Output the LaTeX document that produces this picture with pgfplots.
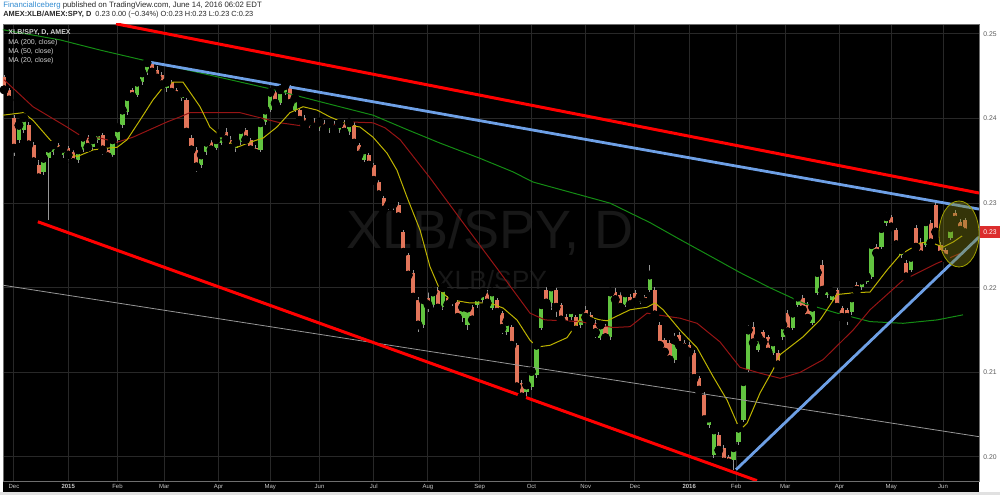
\documentclass[border=0pt]{standalone}
\usepackage{pgfplots}
\pgfplotsset{compat=1.18}
\usepackage{pgfplotstable}
\usepackage{fontspec}
\setmainfont{Liberation Sans}

\definecolor{upc}{RGB}{98,196,64}
\definecolor{dnc}{RGB}{226,117,90}
\definecolor{wickc}{RGB}{150,150,150}
\definecolor{gridc}{RGB}{40,40,40}
\definecolor{framec}{RGB}{110,110,110}
\definecolor{ma200}{RGB}{20,140,20}
\definecolor{ma50}{RGB}{150,20,20}
\definecolor{ma20}{RGB}{190,180,0}
\definecolor{trred}{RGB}{255,0,0}
\definecolor{trblue}{RGB}{110,160,230}
\definecolor{trgray}{RGB}{150,150,150}
\definecolor{wmark}{RGB}{24,24,24}
\definecolor{hdrblue}{RGB}{50,140,210}
\definecolor{hdrtxt}{RGB}{40,40,40}
\definecolor{ticktxt}{RGB}{90,90,90}
\definecolor{xlab}{RGB}{200,200,200}
\definecolor{legtxt}{RGB}{210,210,210}
\definecolor{bottomgray}{RGB}{225,225,225}
\definecolor{ellc}{RGB}{160,160,0}
\definecolor{ellfill}{RGB}{130,130,20}
\definecolor{tagred}{RGB}{220,45,45}

% daily XLB/SPY candles, sampled every 2 trading days (d = trading days since 1 Dec 2014)
\pgfplotstableread{
d o h l c
-4 .2449 .2452 .2431 .2434
-2 .2434 .2436 .2417 .2422
0 .2401 .2404 .2356 .2365
2 .2375 .2396 .2371 .2392
4 .2387 .2403 .2383 .2401
6 .2392 .2396 .2365 .2369
8 .2369 .2372 .2345 .2349
10 .2345 .2351 .2325 .2330
12 .2337 .2357 .2333 .2353
14 .2353 .2369 .2280 .2365
16 .2361 .2372 .2357 .2369
18 .2369 .2371 .2357 .2361
20 .2357 .2369 .2353 .2365
22 .2365 .2368 .2351 .2357
24 .2361 .2363 .2345 .2348
26 .2351 .2365 .2348 .2363
28 .2363 .2381 .2361 .2378
30 .2378 .2381 .2363 .2366
32 .2366 .2378 .2363 .2375
34 .2375 .2387 .2371 .2384
36 .2381 .2383 .2357 .2363
38 .2363 .2365 .2351 .2355
40 .2357 .2377 .2355 .2375
42 .2375 .2391 .2371 .2389
44 .2392 .2413 .2389 .2410
46 .2408 .2428 .2404 .2426
48 .2434 .2436 .2422 .2426
50 .2428 .2446 .2426 .2443
52 .2443 .2457 .2440 .2454
54 .2454 .2468 .2452 .2466
56 .2466 .2467 .2452 .2455
58 .2457 .2462 .2446 .2448
60 .2452 .2455 .2437 .2440
62 .2436 .2446 .2431 .2443
64 .2443 .2446 .2428 .2431
66 .2434 .2436 .2424 .2427
68 .2424 .2434 .2421 .2430
70 .2422 .2424 .2382 .2384
72 .2377 .2381 .2361 .2363
74 .2363 .2366 .2337 .2343
76 .2345 .2361 .2342 .2357
78 .2361 .2375 .2357 .2372
80 .2372 .2375 .2361 .2363
82 .2365 .2377 .2363 .2375
84 .2371 .2387 .2369 .2383
86 .2384 .2389 .2371 .2375
88 .2375 .2379 .2363 .2365
90 .2365 .2375 .2361 .2372
92 .2372 .2389 .2369 .2387
94 .2387 .2389 .2370 .2375
96 .2375 .2377 .2358 .2363
98 .2365 .2369 .2356 .2359
100 .2363 .2398 .2361 .2395
102 .2396 .2413 .2392 .2410
104 .2410 .2434 .2408 .2431
106 .2431 .2434 .2415 .2418
108 .2418 .2436 .2416 .2434
110 .2431 .2443 .2428 .2439
112 .2437 .2440 .2416 .2418
114 .2410 .2427 .2408 .2424
116 .2410 .2413 .2392 .2398
118 .2401 .2404 .2389 .2392
120 .2391 .2400 .2389 .2397
122 .2397 .2401 .2387 .2390
124 .2389 .2398 .2385 .2396
126 .2395 .2398 .2384 .2388
128 .2387 .2396 .2383 .2394
130 .2394 .2397 .2382 .2387
132 .2387 .2397 .2383 .2394
134 .2394 .2398 .2382 .2384
136 .2384 .2398 .2381 .2395
138 .2392 .2396 .2369 .2371
140 .2369 .2371 .2355 .2357
142 .2351 .2365 .2349 .2363
144 .2357 .2359 .2342 .2345
146 .2345 .2348 .2325 .2327
148 .2325 .2327 .2306 .2310
150 .2306 .2309 .2290 .2292
152 .2294 .2300 .2292 .2298
154 .2294 .2301 .2292 .2299
156 .2298 .2301 .2281 .2284
158 .2266 .2268 .2239 .2242
160 .2239 .2241 .2212 .2215
162 .2218 .2221 .2186 .2189
164 .2186 .2189 .2148 .2156
166 .2156 .2188 .2152 .2186
168 .2188 .2195 .2171 .2180
170 .2180 .2200 .2176 .2195
172 .2197 .2201 .2171 .2176
174 .2177 .2203 .2174 .2200
176 .2188 .2190 .2176 .2180
178 .2182 .2189 .2178 .2186
180 .2183 .2186 .2162 .2165
182 .2164 .2182 .2160 .2177
184 .2156 .2180 .2150 .2176
186 .2177 .2180 .2160 .2162
188 .2180 .2193 .2176 .2189
190 .2186 .2197 .2182 .2194
192 .2194 .2197 .2180 .2182
194 .2176 .2197 .2174 .2195
196 .2186 .2188 .2168 .2171
198 .2170 .2173 .2145 .2152
200 .2148 .2164 .2144 .2160
202 .2154 .2156 .2129 .2132
204 .2132 .2135 .2080 .2083
206 .2088 .2091 .2070 .2071
208 .2077 .2088 .2071 .2085
210 .2083 .2103 .2079 .2101
212 .2097 .2135 .2093 .2132
214 .2152 .2182 .2150 .2180
216 .2197 .2201 .2180 .2182
218 .2182 .2206 .2174 .2201
220 .2197 .2200 .2165 .2177
222 .2180 .2182 .2158 .2162
224 .2165 .2169 .2154 .2156
226 .2165 .2177 .2162 .2174
228 .2165 .2168 .2147 .2150
230 .2156 .2178 .2152 .2174
232 .2174 .2178 .2162 .2165
234 .2168 .2171 .2156 .2160
236 .2158 .2162 .2141 .2147
238 .2141 .2160 .2138 .2156
240 .2154 .2157 .2136 .2141
242 .2142 .2197 .2138 .2195
244 .2195 .2200 .2182 .2186
246 .2192 .2195 .2175 .2177
248 .2180 .2197 .2177 .2194
250 .2189 .2193 .2177 .2180
252 .2194 .2197 .2180 .2183
254 .2183 .2193 .2181 .2189
256 .2189 .2192 .2180 .2183
258 .2197 .2227 .2195 .2215
260 .2197 .2201 .2164 .2168
262 .2156 .2160 .2130 .2132
264 .2138 .2141 .2121 .2124
266 .2135 .2138 .2111 .2115
268 .2115 .2147 .2111 .2138
270 .2144 .2148 .2129 .2132
272 .2135 .2138 .2124 .2129
274 .2132 .2136 .2121 .2124
276 .2123 .2126 .2091 .2093
278 .2093 .2096 .2076 .2079
280 .2073 .2077 .2040 .2044
282 .2038 .2050 .2034 .2046
284 .2002 .2034 .1999 .2032
286 .2026 .2030 .2005 .2008
288 .2011 .2014 .1991 .1994
290 .2000 .2002 .1989 .1993
292 .1996 .2014 .1985 .2011
294 .2018 .2038 .2014 .2034
296 .2044 .2091 .2041 .2089
298 .2103 .2156 .2101 .2150
300 .2154 .2160 .2132 .2135
302 .2126 .2144 .2124 .2142
304 .2148 .2150 .2132 .2136
306 .2142 .2144 .2121 .2124
308 .2123 .2138 .2121 .2136
310 .2123 .2126 .2105 .2109
312 .2142 .2160 .2138 .2156
314 .2170 .2174 .2144 .2148
316 .2152 .2174 .2150 .2170
318 .2180 .2193 .2177 .2189
320 .2188 .2192 .2170 .2174
322 .2180 .2183 .2162 .2164
324 .2158 .2180 .2156 .2177
326 .2194 .2220 .2192 .2218
328 .2227 .2233 .2194 .2197
330 .2192 .2203 .2188 .2200
332 .2186 .2197 .2183 .2195
334 .2197 .2200 .2174 .2177
336 .2176 .2178 .2162 .2165
338 .2174 .2176 .2156 .2165
340 .2171 .2192 .2168 .2188
342 .2203 .2207 .2195 .2197
344 .2201 .2212 .2197 .2209
346 .2207 .2215 .2205 .2213
348 .2213 .2253 .2210 .2251
350 .2248 .2252 .2239 .2241
352 .2248 .2272 .2246 .2270
354 .2277 .2290 .2273 .2284
356 .2284 .2286 .2268 .2272
358 .2268 .2271 .2247 .2251
360 .2239 .2248 .2235 .2245
362 .2229 .2233 .2209 .2213
364 .2221 .2239 .2219 .2236
366 .2271 .2274 .2245 .2248
368 .2253 .2259 .2236 .2239
370 .2251 .2283 .2248 .2278
372 .2277 .2280 .2251 .2253
374 .2298 .2301 .2264 .2266
376 .2251 .2254 .2235 .2239
378 .2245 .2247 .2231 .2235
380 .2259 .2273 .2257 .2271
382 .2288 .2292 .2278 .2280
384 .2278 .2281 .2265 .2268
386 .2280 .2283 .2262 .2265
}\candles

\begin{document}
\begin{tikzpicture}
% page background, x-label strip, chart pane
\fill[white] (-1.5pt,-7pt) rectangle (498.5pt,240.5pt);
\fill[bottomgray] (-1.5pt,-7pt) rectangle (498.5pt,-5.5pt);
\fill[black] (0pt,-5.5pt) rectangle (488pt,228.5pt);
% watermark
\node[text=wmark, font=\fontsize{27}{27}\selectfont] at (243.5pt,124.5pt) {XLB/SPY, D};
\node[text=wmark, font=\fontsize{13.2}{13.2}\selectfont] at (244.5pt,100.5pt) {XLB/SPY};

\begin{axis}[
    at={(0,0)}, anchor=south west,
    scale only axis,
    width=488pt, height=228.5pt,
    xmin=-4.46, xmax=391.6,
    ymin=0.19716, ymax=0.25118,
    axis line style={draw=framec, line width=0.4pt},
    xtick={0,22,42,61,83,104,124,146,168,189,210,232,252,274,293,313,335,356,377},
    xticklabels={Dec,\textbf{2015},Feb,Mar,Apr,May,Jun,Jul,Aug,Sep,Oct,Nov,Dec,\textbf{2016},Feb,Mar,Apr,May,Jun},
    ytick={0.20,0.21,0.22,0.23,0.24,0.25},
    yticklabels={0.20,0.21,0.22,0.23,0.24,0.25},
    yticklabel pos=right,
    major tick length=0pt,
    grid=major,
    grid style={draw=gridc, line width=0.5pt},
    xticklabel style={font=\fontsize{3}{3}\selectfont, text=xlab, anchor=center, yshift=-2.9pt},
    yticklabel style={font=\fontsize{3.4}{3.4}\selectfont, text=ticktxt, anchor=west, xshift=1.5pt, inner sep=0.5pt},
]
% wicks
\addplot[only marks, mark=none, forget plot,
    error bars/.cd, y dir=both, y explicit, error mark=none,
    error bar style={wickc, line width=0.4pt}]
    table[x=d, y=c, y error plus expr=\thisrow{h}-\thisrow{c}, y error minus expr=\thisrow{c}-\thisrow{l}] {\candles};
% up bodies
\addplot[only marks, mark=none, forget plot,
    restrict expr to domain={\thisrow{c}-\thisrow{o}}{0:1},
    error bars/.cd, y dir=minus, y explicit, error mark=none,
    error bar style={upc, line width=2.1pt}]
    table[x=d, y=c, y error minus expr=\thisrow{c}-\thisrow{o}] {\candles};
% down bodies
\addplot[only marks, mark=none, forget plot,
    restrict expr to domain={\thisrow{o}-\thisrow{c}}{0.00001:1},
    error bars/.cd, y dir=plus, y explicit, error mark=none,
    error bar style={dnc, line width=2.1pt}]
    table[x=d, y=c, y error plus expr=\thisrow{o}-\thisrow{c}] {\candles};

% MA (200, close)
\addplot[ma200, line width=0.5pt] coordinates {
(-4.5,.2505) (18.7,.2493) (34.9,.2481) (54.0,.2468) (75.5,.2454) (102.7,.2436)
(129.5,.2416) (145.7,.2404) (159.5,.2387) (172.9,.2371) (189.1,.2353) (202.5,.2337)
(210.6,.2325) (226.9,.2312) (241.9,.2300) (258.1,.2277) (270.3,.2257) (285.3,.2233)
(294.6,.2218) (306.8,.2200) (320.2,.2182) (334.0,.2170) (347.4,.2160) (360.8,.2158)
(374.6,.2162) (385.1,.2168)};
% MA (50, close)
\addplot[ma50, line width=0.5pt] coordinates {
(-4.1,.2446) (7.7,.2414) (21.5,.2390) (28.0,.2378) (34.9,.2377) (41.8,.2372)
(48.3,.2378) (55.2,.2387) (62.1,.2396) (67.4,.2402) (71.4,.2407) (83.6,.2407)
(91.7,.2407) (99.8,.2401) (108.0,.2395) (120.1,.2390) (128.2,.2392) (136.4,.2396)
(145.7,.2395) (150.6,.2389) (156.7,.2375) (168.8,.2330) (182.2,.2277) (196.0,.2223)
(209.4,.2170) (215.5,.2162) (229.7,.2160) (243.1,.2153) (250.0,.2154) (256.9,.2170)
(261.0,.2168) (270.3,.2164) (277.2,.2158) (286.5,.2136) (294.6,.2106) (302.8,.2099)
(310.9,.2093) (319.0,.2100) (328.3,.2115) (340.5,.2150) (347.4,.2174) (360.8,.2209)
(374.6,.2229) (385.1,.2242)};
% MA (20, close)
\addplot[ma20, line width=0.5pt] coordinates {
(-4.5,.2404) (3.7,.2407) (7.7,.2398) (14.6,.2375) (18.7,.2363) (25.6,.2355)
(32.1,.2363) (37.7,.2365) (41.8,.2366) (45.9,.2375) (51.1,.2398) (56.4,.2422)
(60.5,.2437) (64.5,.2443) (68.6,.2443) (75.5,.2414) (79.5,.2390) (84.8,.2377)
(90.5,.2366) (95.8,.2372) (101.1,.2377) (106.7,.2390) (112.0,.2407) (117.3,.2414)
(123.0,.2410) (128.2,.2402) (136.4,.2392) (140.4,.2390) (145.7,.2378) (151.4,.2359)
(155.4,.2339) (159.5,.2307) (164.8,.2268) (168.8,.2225) (172.9,.2197) (176.9,.2186)
(185.1,.2182) (193.2,.2182) (198.5,.2176) (204.1,.2162) (209.4,.2138) (212.3,.2130)
(217.5,.2132) (224.4,.2141) (230.9,.2168) (237.8,.2162) (240.7,.2161) (250.0,.2174)
(256.9,.2177) (260.1,.2182) (263.4,.2174) (270.3,.2150) (277.2,.2129) (283.7,.2095)
(289.4,.2067) (293.4,.2040) (294.6,.2032) (297.5,.2040) (302.8,.2076) (308.0,.2103)
(310.9,.2121) (320.2,.2142) (327.1,.2162) (334.0,.2192) (340.5,.2194) (347.4,.2195)
(354.3,.2221) (359.6,.2239) (367.7,.2253) (371.8,.2254) (377.0,.2248) (381.1,.2254)
(385.1,.2262)};

% trend lines
\addplot[trgray, line width=0.4pt] coordinates {(-4.46,.2203) (391.6,.2024)};
\addplot[trred, line width=1.5pt] coordinates {(41.4,.2512) (391.6,.2312)};
\addplot[trred, line width=1.5pt] coordinates {(9.7,.2278) (301.5,.1972)};
\addplot[trblue, line width=1.4pt] coordinates {(54.4,.2467) (391.6,.2293)};
\addplot[trblue, line width=1.4pt] coordinates {(293.0,.1985) (391.6,.2260)};
\end{axis}

% highlight ellipse
\draw[draw=ellc, line width=0.4pt, fill=ellfill, fill opacity=0.4] (478pt,123.5pt) ellipse [x radius=10pt, y radius=16.5pt];

% legend of the pane
\node[anchor=west, inner sep=0pt, text=legtxt, font=\fontsize{3.5}{3.5}\selectfont\bfseries] at (2.5pt,224pt) {XLB/SPY, D, AMEX};
\node[anchor=west, inner sep=0pt, text=legtxt, font=\fontsize{3.5}{3.5}\selectfont] at (2.5pt,219pt) {MA (200, close)};
\node[anchor=west, inner sep=0pt, text=legtxt, font=\fontsize{3.5}{3.5}\selectfont] at (2.5pt,214.5pt) {MA (50, close)};
\node[anchor=west, inner sep=0pt, text=legtxt, font=\fontsize{3.5}{3.5}\selectfont] at (2.5pt,210pt) {MA (20, close)};

% last price tag
\fill[tagred] (488.5pt,121.5pt) rectangle (498.5pt,127.5pt);
\node[text=white, inner sep=0pt, font=\fontsize{3.4}{3.4}\selectfont] at (493.5pt,124.5pt) {0.23};

% header
\node[anchor=west, inner sep=0pt, text=hdrtxt, font=\fontsize{3.9}{3.9}\selectfont] at (0pt,238pt)
    {\textcolor{hdrblue}{FinancialIceberg} published on TradingView.com, June 14, 2016 06:02 EDT};
\node[anchor=west, inner sep=0pt, text=hdrtxt, font=\fontsize{3.7}{3.7}\selectfont] at (0pt,233pt)
    {\textbf{AMEX:XLB/AMEX:SPY, D}\ \ 0.23 0.00 (−0.34\%) O:0.23 H:0.23 L:0.23 C:0.23};
\end{tikzpicture}
\end{document}
